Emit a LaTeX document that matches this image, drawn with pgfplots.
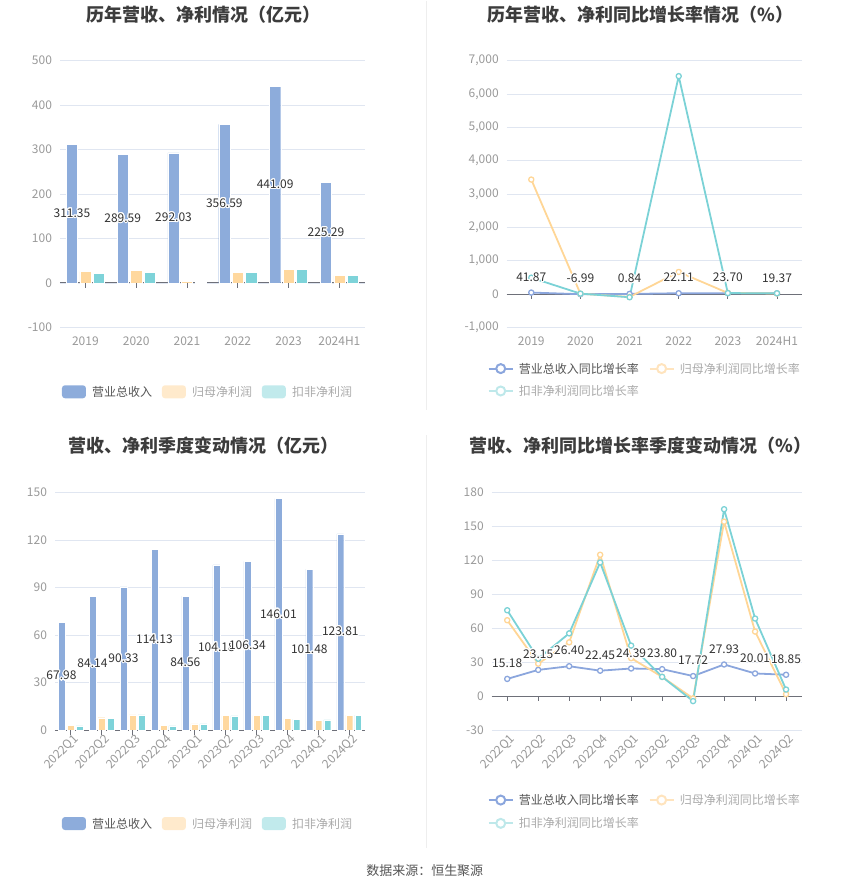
\documentclass[border=0pt]{standalone}
\usepackage{fontspec}
\setmainfont{Noto Sans CJK SC}
\usepackage{pgfplots}
\pgfplotsset{compat=1.18}
\usepackage{pgfplotstable}
\usepackage{contour}
\contourlength{1.1pt}

\definecolor{revc}{RGB}{141,172,219}
\definecolor{netc}{RGB}{255,216,158}
\definecolor{dedc}{RGB}{126,211,217}
\definecolor{revl}{RGB}{139,166,221}
\definecolor{netl}{RGB}{255,214,150}
\definecolor{dedl}{RGB}{123,210,214}
\definecolor{netk}{RGB}{255,234,204}
\definecolor{dedk}{RGB}{193,234,236}
\definecolor{netlk}{RGB}{255,228,190}
\definecolor{dedlk}{RGB}{190,232,234}
\definecolor{gridc}{RGB}{224,230,241}
\definecolor{axisc}{RGB}{110,112,121}
\definecolor{tickc}{RGB}{153,153,153}
\definecolor{labc}{RGB}{51,51,51}
\definecolor{titlec}{RGB}{60,60,60}
\definecolor{keyon}{RGB}{85,85,85}
\definecolor{keyoff}{RGB}{170,170,170}
\definecolor{divc}{RGB}{238,238,238}

% annual amounts (100 million yuan)
\pgfplotstableread{
x rev net ded
0 311.35 25.5 21.7
1 289.59 27.7 24.0
2 292.03 3.0 0.35
3 356.59 24.0 23.0
4 441.09 30.7 30.0
5 225.29 16.5 16.5
}\annual

% annual growth (%)
\pgfplotstableread{
x rev net ded
0 41.87 3430 488
1 -6.99 8 10
2 0.84 -89 -98
3 22.11 660 6530
4 23.70 30 26
5 19.37 15 20
}\annualg

% quarterly amounts
\pgfplotstableread{
x rev net ded
0 67.98 3.1 2.7
1 84.14 7.8 7.3
2 90.33 9.6 9.6
3 114.13 2.9 2.7
4 84.56 4.0 4.0
5 104.18 9.2 9.0
6 106.34 9.2 9.2
7 146.01 7.3 6.9
8 101.48 6.3 6.5
9 123.81 9.4 9.4
}\quarter

% quarterly growth
\pgfplotstableread{
x rev net ded
0 15.18 67.0 75.8
1 23.15 28.6 33.0
2 26.40 47.5 55.4
3 22.45 124.8 118.0
4 24.39 33.5 44.6
5 23.80 17.0 17.0
6 17.72 -2.0 -4.4
7 27.93 154.0 165.0
8 20.01 57.0 68.5
9 18.85 1.7 5.8
}\quarterg

\newcommand\tfont{\fontsize{12}{14}\selectfont}

\pgfplotsset{
  panel/.style={
    scale only axis, clip=false,
    axis line style={draw=none},
    major tick length=0pt,
    ymajorgrids, grid style={gridc, line width=0.6pt},
    extra y ticks={0}, extra y tick labels={},
    extra y tick style={grid style={axisc, line width=0.8pt}},
    tick label style={font=\tfont, text=tickc},
    /pgf/number format/assume math mode=true,
    yticklabel style={xshift=-4.5pt},
  },
  barlab/.style={draw=none, mark=none,
    nodes near coords={\contour{white}{\pgfmathprintnumber[fixed,fixed zerofill,precision=2]{\pgfplotspointmeta}}},
    every node near coord/.style={anchor=center, font=\tfont, text=labc}},
  linelab/.style={draw=none, mark=none,
    nodes near coords={\contour{white}{\pgfmathprintnumber[fixed,fixed zerofill,precision=2]{\pgfplotspointmeta}}},
    every node near coord/.style={anchor=center, yshift=15pt, font=\tfont, text=labc}},
  ln/.style={line width=1.8pt, line join=round, mark=*, mark size=2.6pt,
    mark options={fill=white, line width=1.3pt}},
}

\newcommand\barkey[5]{%
  \fill[#3, rounded corners=3pt] (#1pt,-#2pt+6.5pt) rectangle (#1pt+24pt,-#2pt-6.5pt);
  \node[anchor=west, inner sep=0pt, font=\tfont, text=#4] at (#1pt+30pt,-#2pt) {#5};}
\newcommand\linekey[5]{%
  \draw[#3, line width=2pt] (#1pt,-#2pt) -- (#1pt+24pt,-#2pt);
  \draw[#3, line width=2pt, fill=white] (#1pt+12pt,-#2pt) circle (4.5pt);
  \node[anchor=west, inner sep=0pt, font=\tfont, text=#4] at (#1pt+30pt,-#2pt) {#5};}

\begin{document}
\begin{tikzpicture}
\path (0pt,0pt) rectangle (850pt,-891pt);
\draw[divc, line width=1pt] (427pt,0pt) -- (427pt,-410pt);
\draw[divc, line width=1pt] (427pt,-435pt) -- (427pt,-848pt);

\tikzset{ttl/.style={font=\fontsize{18}{21}\selectfont\bfseries, text=titlec}}
\node[ttl] at (204pt,-14pt) {历年营收、净利情况（亿元）};
\node[ttl] at (641pt,-14pt) {历年营收、净利同比增长率情况（\%）};
\node[ttl] at (204pt,-445pt) {营收、净利季度变动情况（亿元）};
\node[ttl] at (641pt,-445pt) {营收、净利同比增长率季度变动情况（\%）};

% panel 1
\begin{axis}[panel, at={(60pt,-327pt)}, anchor=south west,
  width=305pt, height=267pt,
  xmin=-0.5, xmax=5.5, ymin=-100, ymax=500,
  ytick={-100,0,...,500},
  xtick={0,...,5}, xticklabels={2019,2020,2021,2022,2023,2024H1},
  xticklabel style={yshift=-6pt}]
\addplot[ybar, bar width=0.22, bar shift=-0.265, fill=revc, draw=white, line width=0.4pt] table[x=x,y=rev]{\annual};
\addplot[ybar, bar width=0.22, bar shift=0, fill=netc, draw=white, line width=0.4pt] table[x=x,y=net]{\annual};
\addplot[ybar, bar width=0.22, bar shift=0.265, fill=dedc, draw=white, line width=0.4pt] table[x=x,y=ded]{\annual};
\pgfplotsinvokeforeach{0,...,5}{\draw[axisc, line width=0.8pt] (axis cs:#1,0) -- ++(0pt,-5pt);}
\addplot[barlab, point meta=\thisrow{rev}] table[x expr=\thisrow{x}-0.265, y expr=\thisrow{rev}/2]{\annual};
\end{axis}
\barkey{62}{391.5}{revc}{keyon}{营业总收入}
\barkey{162}{391.5}{netk}{keyoff}{归母净利润}
\barkey{262}{391.5}{dedk}{keyoff}{扣非净利润}

% panel 2
\begin{axis}[panel, at={(507pt,-327pt)}, anchor=south west,
  width=295pt, height=267pt,
  xmin=-0.5, xmax=5.5, ymin=-1000, ymax=7000,
  ytick={-1000,0,...,7000},
  xtick={0,...,5}, xticklabels={2019,2020,2021,2022,2023,2024H1},
  xticklabel style={yshift=-6pt}]
\pgfplotsinvokeforeach{0,...,5}{\draw[axisc, line width=0.8pt] (axis cs:#1,0) -- ++(0pt,-5pt);}
\addplot[ln, revl] table[x=x,y=rev]{\annualg};
\addplot[ln, netl] table[x=x,y=net]{\annualg};
\addplot[ln, dedl] table[x=x,y=ded]{\annualg};
\addplot[linelab, point meta=\thisrow{rev}] table[x=x,y=rev]{\annualg};
\end{axis}
\linekey{489}{368.3}{revl}{keyon}{营业总收入同比增长率}
\linekey{650}{368.3}{netlk}{keyoff}{归母净利润同比增长率}
\linekey{489}{390.7}{dedlk}{keyoff}{扣非净利润同比增长率}

% panel 3
\begin{axis}[panel, at={(55pt,-730pt)}, anchor=south west,
  width=310pt, height=238pt,
  xmin=-0.5, xmax=9.5, ymin=0, ymax=150,
  ytick={0,30,...,150},
  xtick={0,...,9},
  xticklabels={2022Q1,2022Q2,2022Q3,2022Q4,2023Q1,2023Q2,2023Q3,2023Q4,2024Q1,2024Q2},
  xticklabel style={rotate=45, anchor=north east, xshift=3pt}]
\addplot[ybar, bar width=0.22, bar shift=-0.29, fill=revc, draw=white, line width=0.4pt] table[x=x,y=rev]{\quarter};
\addplot[ybar, bar width=0.22, bar shift=0, fill=netc, draw=white, line width=0.4pt] table[x=x,y=net]{\quarter};
\addplot[ybar, bar width=0.22, bar shift=0.29, fill=dedc, draw=white, line width=0.4pt] table[x=x,y=ded]{\quarter};
\pgfplotsinvokeforeach{0,...,9}{\draw[axisc, line width=0.8pt] (axis cs:#1,0) -- ++(0pt,-5pt);}
\addplot[barlab, point meta=\thisrow{rev}] table[x expr=\thisrow{x}-0.29, y expr=\thisrow{rev}/2]{\quarter};
\end{axis}
\barkey{62}{823.5}{revc}{keyon}{营业总收入}
\barkey{162}{823.5}{netk}{keyoff}{归母净利润}
\barkey{262}{823.5}{dedk}{keyoff}{扣非净利润}

% panel 4
\begin{axis}[panel, at={(492pt,-730pt)}, anchor=south west,
  width=310pt, height=238pt,
  xmin=-0.5, xmax=9.5, ymin=-30, ymax=180,
  ytick={-30,0,...,180},
  xtick={0,...,9},
  xticklabels={2022Q1,2022Q2,2022Q3,2022Q4,2023Q1,2023Q2,2023Q3,2023Q4,2024Q1,2024Q2},
  xticklabel style={rotate=45, anchor=north east, xshift=3pt}]
\pgfplotsinvokeforeach{0,...,9}{\draw[axisc, line width=0.8pt] (axis cs:#1,0) -- ++(0pt,-5pt);}
\addplot[ln, revl] table[x=x,y=rev]{\quarterg};
\addplot[ln, netl] table[x=x,y=net]{\quarterg};
\addplot[ln, dedl] table[x=x,y=ded]{\quarterg};
\addplot[linelab, point meta=\thisrow{rev}] table[x=x,y=rev]{\quarterg};
\end{axis}
\linekey{489}{800}{revl}{keyon}{营业总收入同比增长率}
\linekey{650}{800}{netlk}{keyoff}{归母净利润同比增长率}
\linekey{489}{823.3}{dedlk}{keyoff}{扣非净利润同比增长率}

\node[font=\fontsize{13}{15}\selectfont, text=keyon] at (425pt,-871pt) {数据来源：恒生聚源};
\end{tikzpicture}
\end{document}
